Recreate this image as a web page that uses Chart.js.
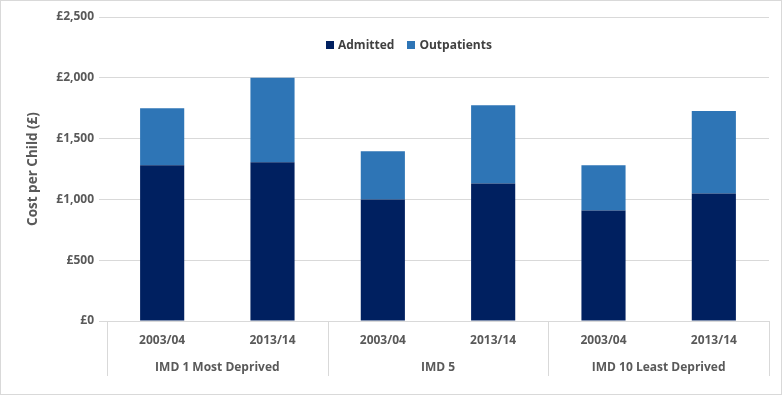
<!DOCTYPE html>
<html lang="en">
<head>
  <meta charset="UTF-8" />
  <title>Cost per Child by IMD</title>
  <script src="https://cdn.jsdelivr.net/npm/chart.js"></script>
  <style>
    html, body { margin: 0; padding: 0; background: white; }
    .wrap { position: relative; width: 782px; height: 395px; box-sizing: border-box; border: 1px solid #d9d9d9; }
    .legend { position: absolute; top: 35px; left: 325px; font: bold 12px "Open Sans", sans-serif; color: #404040; display: flex; gap: 13px; }
    .legend span { display: inline-flex; align-items: center; }
    .legend i { display: inline-block; width: 8px; height: 8px; margin-right: 4px; }
  </style>
</head>
<body>
  <div class="wrap">
    <canvas id="costChart"></canvas>
    <div class="legend" id="legend"></div>
  </div>

  <script>
    const years = ['2003/04', '2013/14', '2003/04', '2013/14', '2003/04', '2013/14'];
    const groups = ['IMD 1 Most Deprived', 'IMD 5', 'IMD 10 Least Deprived'];
    const admitted = [1280, 1305, 1000, 1130, 908, 1048];
    const outpatients = [470, 695, 395, 645, 372, 679];

    const textColor = '#595959';
    const font = { family: '"Open Sans", sans-serif', size: 12, weight: 'bold' };

    // vertical dividers between the IMD groups, under the axis
    const groupLines = {
      id: 'groupLines',
      afterDraw(chart) {
        const x2 = chart.scales.x2;
        const ctx = chart.ctx;
        ctx.save();
        ctx.strokeStyle = '#d9d9d9';
        ctx.lineWidth = 1;
        for (let i = -0.5; i <= groups.length - 0.5; i++) {
          const px = Math.round(x2.getPixelForValue(i)) + 0.5;
          ctx.beginPath();
          ctx.moveTo(px, chart.chartArea.bottom);
          ctx.lineTo(px, x2.bottom);
          ctx.stroke();
        }
        ctx.restore();
      }
    };

    const chart = new Chart(document.getElementById('costChart'), {
      type: 'bar',
      data: {
        labels: years,
        datasets: [
          { label: 'Admitted', data: admitted, backgroundColor: '#002060', barPercentage: 0.4, categoryPercentage: 1 },
          { label: 'Outpatients', data: outpatients, backgroundColor: '#2e75b6', barPercentage: 0.4, categoryPercentage: 1 }
        ]
      },
      options: {
        responsive: true,
        maintainAspectRatio: false,
        animation: false,
        layout: { padding: { left: 20, right: 12, top: 16, bottom: 18 } },
        plugins: {
          legend: { display: false },
          tooltip: { enabled: false }
        },
        scales: {
          x: {
            stacked: true,
            grid: { display: false },
            border: { color: '#d9d9d9' },
            ticks: { color: textColor, font: font, padding: 4 },
            afterFit(scale) { scale.height = 28; }
          },
          x2: {
            type: 'category',
            position: 'bottom',
            labels: groups,
            offset: true,
            grid: { display: false },
            border: { display: false },
            ticks: { color: textColor, font: font, padding: 3 },
            afterFit(scale) { scale.height = 27; }
          },
          y: {
            stacked: true,
            min: 0,
            max: 2500,
            ticks: {
              stepSize: 500,
              color: textColor,
              font: font,
              padding: 5,
              callback: v => '£' + v.toLocaleString('en-GB')
            },
            grid: { color: '#d9d9d9' },
            border: { display: false },
            title: { display: true, text: 'Cost per Child (£)', color: textColor, font: { family: font.family, size: 13.5, weight: 'bold' } },
            afterFit(scale) { scale.width = 86; }
          }
        }
      },
      plugins: [groupLines]
    });

    const legendEl = document.getElementById('legend');
    chart.data.datasets.forEach(ds => {
      const item = document.createElement('span');
      item.innerHTML = '<i style="background:' + ds.backgroundColor + '"></i>' + ds.label;
      legendEl.appendChild(item);
    });
  </script>
</body>
</html>
